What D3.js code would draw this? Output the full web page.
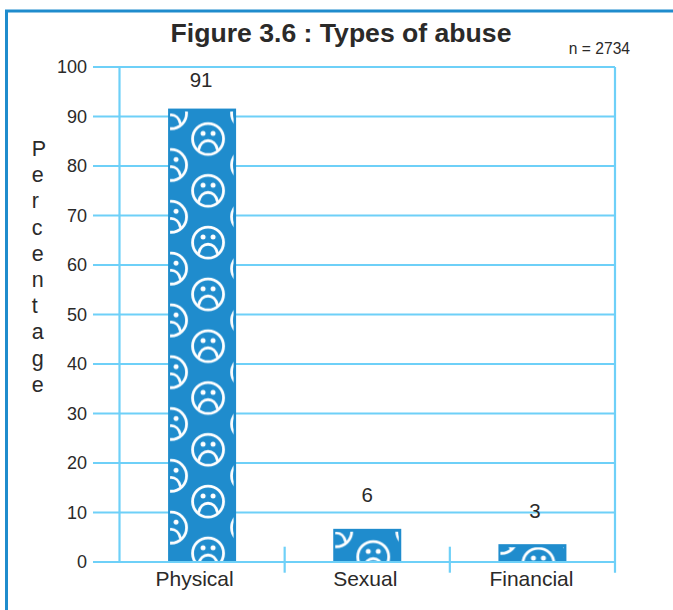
<!DOCTYPE html>
<html><head><meta charset="utf-8">
<script src="https://cdnjs.cloudflare.com/ajax/libs/d3/7.8.5/d3.min.js"></script>
<style>html,body{margin:0;background:#fff}svg{display:block}text{font-family:"Liberation Sans",Arial,sans-serif;fill:#2b2a29}</style>
</head><body><script>
const categories=["Physical","Sexual","Financial"];
const labelValues=[91,6,3];
const barValues=[91.6,6.7,3.6];
const yTicks=[0,10,20,30,40,50,60,70,80,90,100];
const yTitle="Percentage";
const title="Figure 3.6 : Types of abuse";
const note="n = 2734";
const patternTop=[108.5,526.5,533.2];
const labelDx=[-1,0,2.5],labelDy=[-24.5,-30.5,-29.5];
const catDx=[-7.5,-2,-1];

const W=673,H=610,grid="#6ed0f8",blue="#1f8ccd";
const svg=d3.select("body").append("svg").attr("width",W).attr("height",H);
const x=d3.scaleBand().domain(categories).range([119.5,615]).paddingInner(0).paddingOuter(0);
const y=d3.scaleLinear().domain([0,100]).range([562,67]);

// frame
svg.append("path").attr("d","M6.5,610V11H673").attr("fill","none").attr("stroke",blue).attr("stroke-width",3);

// grid + axes
svg.append("g").selectAll("line").data(yTicks).join("line")
 .attr("x1",93).attr("x2",615).attr("y1",d=>y(d)).attr("y2",d=>y(d)).attr("stroke",grid).attr("stroke-width",2.2);
svg.append("line").attr("x1",119.5).attr("x2",119.5).attr("y1",y(100)).attr("y2",y(0)).attr("stroke",grid).attr("stroke-width",2.2);
svg.append("line").attr("x1",615).attr("x2",615).attr("y1",y(100)).attr("y2",572.7).attr("stroke",grid).attr("stroke-width",2.2);
svg.append("g").selectAll("line").data(categories.slice(1)).join("line")
 .attr("x1",d=>x(d)).attr("x2",d=>x(d)).attr("y1",546.7).attr("y2",572.7).attr("stroke",grid).attr("stroke-width",2.2);

// y labels
svg.append("g").selectAll("text").data(yTicks).join("text")
 .attr("x",87).attr("y",d=>y(d)+6.3).attr("text-anchor","end").attr("font-size",18).text(d=>d);

// patterns
const defs=svg.append("defs");
function face(g,cx,cy){
 const f=g.append("g").attr("transform",`translate(${cx},${cy})`).attr("fill","none").attr("stroke","#fff");
 f.append("circle").attr("r",15.5).attr("stroke-width",2.8);
 f.append("circle").attr("cx",-5).attr("cy",-5.5).attr("r",2.5).attr("fill","#fff").attr("stroke","none");
 f.append("circle").attr("cx",5).attr("cy",-5.5).attr("r",2.5).attr("fill","#fff").attr("stroke","none");
 f.append("path").attr("d","M-9.5,11 C-7,-1.5 7,-1.5 9.5,11").attr("stroke-width",2.8);
}
const bw=68;
categories.forEach((c,i)=>{
 const cx=x(c)+x.bandwidth()/2;
 const left=cx-34;
 const barTop=y(barValues[i]);
 const clip=defs.append("clipPath").attr("id","clip"+i);
 clip.append("rect").attr("x",left+2).attr("y",barTop+3).attr("width",bw-4.5).attr("height",y(0)-barTop-3);
 const bar=svg.append("g");
 bar.append("rect").attr("x",left).attr("width",bw).attr("y",barTop).attr("height",y(0)-barTop).attr("fill",blue);
 const g=bar.append("g").attr("clip-path",`url(#clip${i})`);
 const p=defs.append("pattern").attr("id","pat"+i).attr("patternUnits","userSpaceOnUse")
   .attr("width",76).attr("height",51.8).attr("x",left).attr("y",patternTop[i]);
 face(p,40,30.5);
 [3,79].forEach(px=>{face(p,px,4.7);face(p,px,56.5);});
 g.append("rect").attr("x",left).attr("y",barTop).attr("width",bw).attr("height",y(0)-barTop).attr("fill",`url(#pat${i})`);
 svg.append("text").attr("x",cx+labelDx[i]).attr("y",y(labelValues[i])+labelDy[i]).attr("text-anchor","middle").attr("font-size",20.5).text(labelValues[i]);
 svg.append("text").attr("x",cx+catDx[i]).attr("y",586).attr("text-anchor","middle").attr("font-size",21).text(c);
});
// baseline above the bars
svg.append("line").attr("x1",93).attr("x2",615).attr("y1",y(0)).attr("y2",y(0)).attr("stroke",grid).attr("stroke-width",2.2);

// title
svg.append("text").attr("x",341).attr("y",42).attr("text-anchor","middle").attr("font-size",26.6).attr("font-weight","bold").text(title);
svg.append("text").attr("x",630).attr("y",54).attr("text-anchor","end").attr("font-size",15.6).text(note);
// y title
svg.append("g").selectAll("text").data(yTitle.split("")).join("text")
 .attr("x",31.7).attr("y",(d,i)=>156+i*26.2).attr("font-size",21.5).text(d=>d);
</script></body></html>
